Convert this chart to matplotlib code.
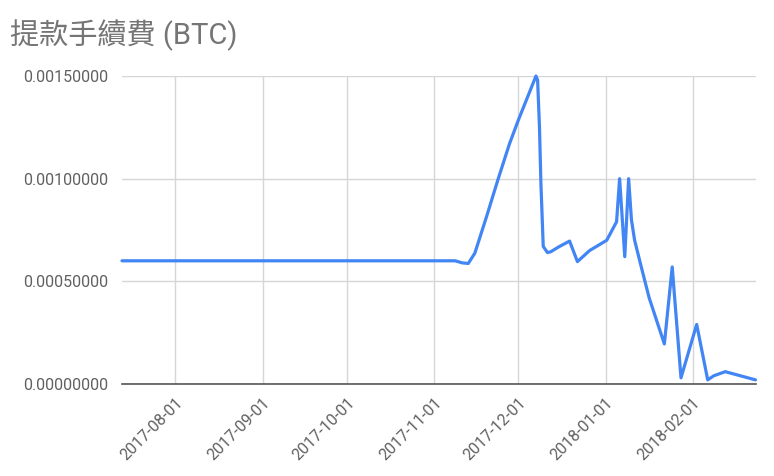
import pandas as pd
import matplotlib
matplotlib.use("Agg")
import matplotlib.pyplot as plt
import matplotlib.dates as mdates
from matplotlib.ticker import FuncFormatter

plt.rcParams['font.family'] = ['Roboto', 'Noto Sans CJK TC', 'DejaVu Sans']

# Datos (fecha, comision en BTC)
fechas = [
    "2017-07-13", "2017-11-08 12:00", "2017-11-11", "2017-11-13 04:00",
    "2017-11-15 12:00", "2017-11-19 16:00", "2017-11-23 20:00", "2017-11-27 20:00",
    "2017-12-01", "2017-12-04 08:00", "2017-12-07 06:00", "2017-12-07 20:00",
    "2017-12-08 12:00", "2017-12-09", "2017-12-09 20:00", "2017-12-11 08:00",
    "2017-12-12 12:00", "2017-12-15 12:00", "2017-12-19 05:00", "2017-12-22",
    "2017-12-26 08:00", "2018-01-01 10:00", "2018-01-04 22:00", "2018-01-06",
    "2018-01-07 20:00", "2018-01-09 05:00", "2018-01-10 05:00", "2018-01-11 08:00",
    "2018-01-13 17:00", "2018-01-16 12:00", "2018-01-21 22:00", "2018-01-24 17:00",
    "2018-01-27 20:00", "2018-02-02 10:00", "2018-02-06 08:00", "2018-02-08 12:00",
    "2018-02-12 14:00", "2018-02-23 08:00",
]
comision = [
    0.00060, 0.00060, 0.000590, 0.000587,
    0.000637, 0.000815, 0.00100, 0.00117,
    0.001286, 0.00140, 0.00150, 0.00148,
    0.00125, 0.00098, 0.00067, 0.00064,
    0.000644, 0.000669, 0.000696, 0.000596,
    0.00065, 0.00070, 0.00079, 0.00100,
    0.00062, 0.00100, 0.00080, 0.00070,
    0.00057, 0.00042, 0.000195, 0.00057,
    0.00003, 0.00029, 0.00002, 0.00004,
    0.00006, 0.00002,
]
meses = ["2017-08-01", "2017-09-01", "2017-10-01", "2017-11-01",
         "2017-12-01", "2018-01-01", "2018-02-01"]
valores_y = [0.0, 0.0005, 0.0010, 0.0015]

x = pd.to_datetime(fechas, format="mixed")

fig = plt.figure(figsize=(7.74, 4.76), dpi=100)
ax = fig.add_axes([0.1576, 0.1933, 0.8191, 0.647])

ax.plot(x, comision, color="#4285F4", linewidth=2.3, solid_joinstyle="round",
        solid_capstyle="round", zorder=3, clip_on=False)

ax.set_xlim(pd.Timestamp("2017-07-13"), pd.Timestamp("2018-02-23 12:00"))
ax.set_ylim(0, 0.0015)
ax.set_xticks(pd.to_datetime(meses))
ax.xaxis.set_major_formatter(mdates.DateFormatter("%Y-%m-%d"))
ax.set_yticks(valores_y)
ax.yaxis.set_major_formatter(FuncFormatter(lambda v, p: "%.8f" % v))

ax.grid(True, color="#d6d6d6", linewidth=1.0, zorder=0)
for s in ["top", "right", "left"]:
    ax.spines[s].set_visible(False)
ax.spines["bottom"].set_color("#555555")
ax.spines["bottom"].set_linewidth(1.2)
ax.spines["bottom"].set_zorder(4)
ax.tick_params(axis="both", length=0, labelsize=11.5, labelcolor="#616161")
ax.tick_params(axis="y", pad=10)
ax.tick_params(axis="x", pad=8)
for lab in ax.get_xticklabels():
    lab.set_rotation(45)
    lab.set_ha("right")
    lab.set_rotation_mode("anchor")

fig.text(0.013, 0.926, "提款手續費 (BTC)", fontsize=21, color="#757575",
         ha="left", va="center")

fig.savefig("out.png", dpi=100)
